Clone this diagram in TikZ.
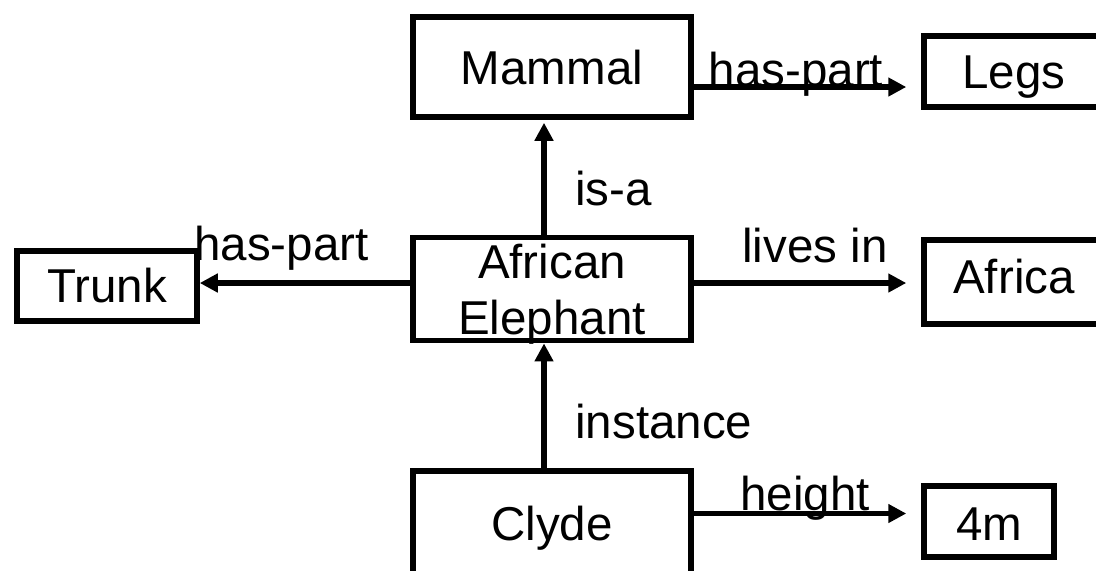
\documentclass[tikz,border=0pt]{standalone}
\usepackage{fontspec}
\setmainfont{Liberation Sans}
\usepackage{tikz}
\usetikzlibrary{positioning, arrows.meta}
\tikzstyle{box} = [
    rectangle, text centered,
    draw=black,
    line width=2.75pt,
    font=\fontsize{23.75}{28}\selectfont,
    text height=17pt, text depth=0pt,
]
\tikzstyle{wide} = [
    box,
    minimum width=139pt,
    minimum height=50pt,
]
\tikzstyle{small} = [
    box,
    minimum width=90pt,
    minimum height=35.5pt,
]
\tikzstyle{lbl} = [
    inner sep=0pt, anchor=base,
    font=\fontsize{23.75}{28}\selectfont,
]
\tikzstyle{arrow} = [-{Triangle[length=9pt,width=9pt]}, line width=2.75pt]

\begin{document}
\begin{tikzpicture}[x=0.5pt, y=-0.5pt]
    \useasboundingbox (0,0) rectangle (1096,570);
    \clip (0,0) rectangle (1096,570);

    % boxes
    \node (mammal) at (552, 67) [wide] {Mammal};
    \node (elephant) at (552, 289) [wide, align=center, text height=45pt] {African\\Elephant};
    \node (clyde) at (552, 523) [wide, minimum height=52pt] {Clyde};
    \node (legs) at (1014, 71.5) [small] {Legs};
    \node (africa) at (1014, 282) [small, minimum height=42pt, text height=11pt] {Africa};
    \node (trunk) at (107, 286) [small, minimum height=35pt, text height=16pt] {Trunk};
    \node (fourm) at (989, 521.5) [small, minimum width=65pt, text height=18.5pt] {4m};

    % labels
    \node (partlegs) at (796, 86) [lbl] {has-part};
    \node (parttrunk) at (281.5, 260) [lbl] {has-part};
    \node (livesin) at (815, 262) [lbl] {lives in};
    \node (height) at (805, 510) [lbl] {height};
    \node (isa) at (575, 205) [lbl, anchor=base west] {is-a};
    \node (inst) at (575, 438) [lbl, anchor=base west] {instance};

    % arrows
    \draw [arrow, shorten >=1.5pt] ([xshift=-4pt]elephant.north) to ([xshift=-4pt]mammal.south);
    \draw [arrow] ([xshift=-4pt]clyde.north) to ([xshift=-4pt]elephant.south);
    \draw [arrow] ([yshift=3pt]elephant.west) to ([yshift=3pt]elephant.west -| trunk.east);
    \draw [arrow, shorten >=7.5pt] ([yshift=-10pt]mammal.east) to ([yshift=-10pt]mammal.east -| legs.west);
    \draw [arrow, shorten >=7.5pt] ([yshift=3pt]elephant.east) to ([yshift=3pt]elephant.east -| africa.west);
    \draw [arrow, shorten >=7.5pt] ([yshift=4.75pt]clyde.east) to ([yshift=4.75pt]clyde.east -| fourm.west);
\end{tikzpicture}
\end{document}
